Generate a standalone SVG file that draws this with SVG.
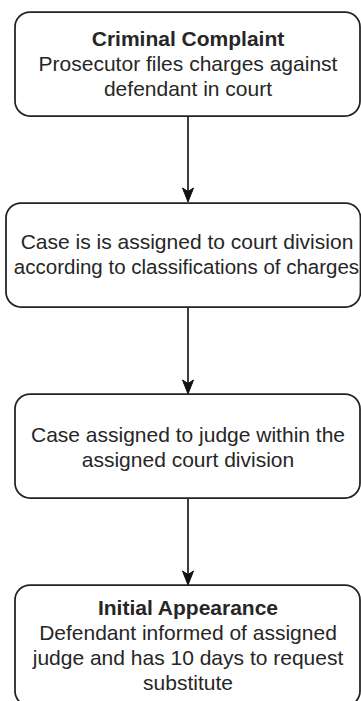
<svg xmlns="http://www.w3.org/2000/svg" width="361" height="701" viewBox="0 0 361 701">
<style>
.box{fill:#ffffff;stroke:#222222;stroke-width:1.75}
.t{font-family:"Liberation Sans",Arial,sans-serif;font-size:21px;fill:#262626;text-anchor:middle}
.b{font-weight:bold}
.edge{stroke:#222222;stroke-width:1.75;fill:none}
.head{fill:#111111;stroke:#111111;stroke-width:1}
</style>
<rect width="361" height="701" fill="#ffffff"/>
<g id="connectors">
<line class="edge" x1="188" y1="116" x2="188" y2="194"/>
<path class="head" d="M188,202 L182.5,188 L188,191.5 L193.5,188 Z"/>
<line class="edge" x1="188" y1="307" x2="188" y2="386"/>
<path class="head" d="M188,394 L182.5,380 L188,383.5 L193.5,380 Z"/>
<line class="edge" x1="188" y1="498" x2="188" y2="577"/>
<path class="head" d="M188,585 L182.5,571 L188,574.5 L193.5,571 Z"/>
</g>
<g id="node1">
<rect class="box" x="15" y="12" width="345" height="104" rx="15"/>
<text class="t b" x="188" y="46">Criminal Complaint</text>
<text class="t" x="188" y="71">Prosecutor files charges against</text>
<text class="t" x="188" y="96">defendant in court</text>
</g>
<g id="node2">
<rect class="box" x="6" y="203" width="354.5" height="104" rx="15"/>
<text class="t" x="187" y="249">Case is is assigned to court division</text>
<text class="t" x="186.5" y="274" style="font-size:20.5px">according to classifications of charges</text>
</g>
<g id="node3">
<rect class="box" x="15" y="394" width="345" height="104" rx="15"/>
<text class="t" x="188" y="442">Case assigned to judge within the</text>
<text class="t" x="188" y="467">assigned court division</text>
</g>
<g id="node4">
<rect class="box" x="15" y="585" width="345" height="121" rx="15"/>
<text class="t b" x="188" y="615">Initial Appearance</text>
<text class="t" x="188" y="640">Defendant informed of assigned</text>
<text class="t" x="188" y="665">judge and has 10 days to request</text>
<text class="t" x="188" y="690">substitute</text>
</g>
</svg>
